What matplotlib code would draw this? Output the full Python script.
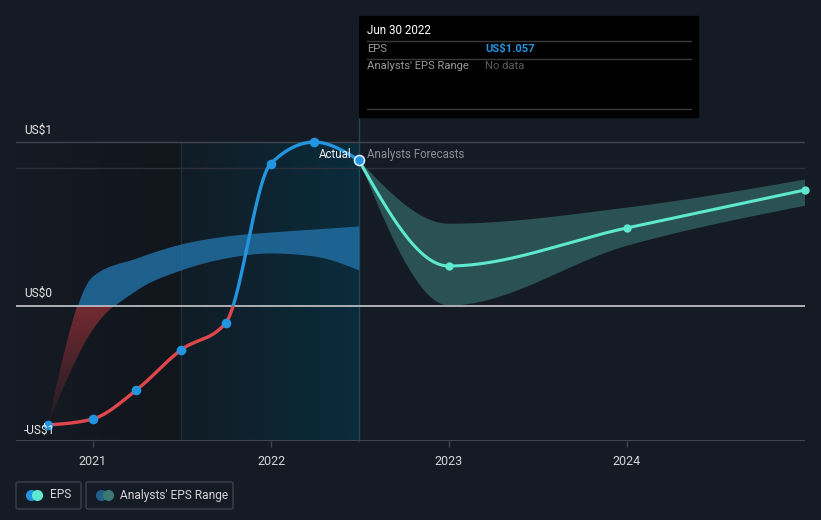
import numpy as np
import pandas as pd
import matplotlib
matplotlib.use("Agg")
import matplotlib.pyplot as plt
from matplotlib.patches import Rectangle, FancyBboxPatch, Polygon
from matplotlib.lines import Line2D
from matplotlib.colors import to_rgb

plt.rcParams['font.family'] = ['Roboto', 'DejaVu Sans']

# ---------------- data ----------------
actual_dates = ["2020-09-30", "2020-12-31", "2021-03-31", "2021-06-30",
                "2021-09-30", "2021-12-31", "2022-03-31", "2022-06-30"]
actual_eps = [-0.862, -0.819, -0.609, -0.319, -0.123, 1.029, 1.188, 1.057]

past_range_upper = [-0.862, 0.217, 0.348, 0.449, 0.507, 0.536, 0.558, 0.580]
past_range_lower = [-0.862, -0.174, 0.116, 0.261, 0.348, 0.384, 0.362, 0.261]

forecast_dates = ["2022-06-30", "2022-12-31", "2023-12-31", "2024-12-31"]
forecast_eps = [1.057, 0.290, 0.565, 0.840]
forecast_upper = [1.057, 0.600, 0.717, 0.920]
forecast_lower = [1.057, 0.007, 0.440, 0.730]

x_ticks = ["2021-01-01", "2022-01-01", "2023-01-01", "2024-01-01"]
x_tick_labels = ["2021", "2022", "2023", "2024"]
y_labels = ["US$1", "US$0", "-US$1"]

tooltip_date = "Jun 30 2022"
tooltip_eps = "US$1.057"


def dec_year(s):
    d = pd.Timestamp(s)
    days = 366 if d.is_leap_year else 365
    return d.year + (d.dayofyear - 1) / days + 1.0 / days


def monotone(x, y, n=120):
    x = np.asarray(x, float); y = np.asarray(y, float)
    h = np.diff(x); s = np.diff(y) / h
    m = np.zeros_like(y)
    for i in range(1, len(x) - 1):
        p = (s[i - 1] * h[i] + s[i] * h[i - 1]) / (h[i - 1] + h[i])
        m[i] = (np.sign(s[i - 1]) + np.sign(s[i])) * min(abs(s[i - 1]), abs(s[i]), 0.5 * abs(p))
    m[0] = (3 * s[0] - m[1]) / 2 if len(x) > 2 else s[0]
    m[-1] = (3 * s[-1] - m[-2]) / 2 if len(x) > 2 else s[-1]
    xs, ys = [], []
    for i in range(len(x) - 1):
        t = np.linspace(0, 1, n, endpoint=(i == len(x) - 2))
        h00 = 2 * t**3 - 3 * t**2 + 1
        h10 = t**3 - 2 * t**2 + t
        h01 = -2 * t**3 + 3 * t**2
        h11 = t**3 - t**2
        xs.append(x[i] + t * h[i])
        ys.append(h00 * y[i] + h10 * h[i] * m[i] + h01 * y[i + 1] + h11 * h[i] * m[i + 1])
    return np.concatenate(xs), np.concatenate(ys)


ax_x = [dec_year(d) for d in actual_dates]
fx = [dec_year(d) for d in forecast_dates]
tx = [dec_year(d) for d in x_ticks]

# ---------------- figure ----------------
W, H = 821, 520
BG = '#151b24'
fig = plt.figure(figsize=(W / 100, H / 100), dpi=100, facecolor=BG)

px_per_year = 178.0
px_per_dollar = 138.0
x0_px, x1_px = 16, 805
ybot_px, ytop_px = 441, 10
zero_px = 306
year2021_px = 93
xmin = tx[0] + (x0_px - year2021_px) / px_per_year
xmax = tx[0] + (x1_px - year2021_px) / px_per_year
ymin = -(ybot_px - zero_px) / px_per_dollar
ymax = (zero_px - ytop_px) / px_per_dollar
tooltip_top_val = (zero_px - 16) / px_per_dollar

ax = fig.add_axes([x0_px / W, (H - ybot_px) / H, (x1_px - x0_px) / W, (ybot_px - ytop_px) / H])
ax.set_facecolor(BG)
for sp in ax.spines.values():
    sp.set_visible(False)
ax.set_yticks([])
ax.set_xticks(tx)
ax.set_xticklabels(x_tick_labels)
ax.tick_params(axis='x', colors='#3f4550', length=4, width=1, pad=6, labelcolor='#d5d7da', labelsize=9)

top_val = max(actual_eps)
split = dec_year("2021-06-30")
now = ax_x[-1]


def hgrad(c0, c1, x0, x1, y0, y1, z):
    a = np.array(to_rgb(c0)); b = np.array(to_rgb(c1))
    t = np.linspace(0, 1, 64)[None, :, None]
    img = a[None, None, :] * (1 - t) + b[None, None, :] * t
    img = np.repeat(img, 2, axis=0)
    ax.imshow(img, extent=[x0, x1, y0, y1], origin='lower', aspect='auto', zorder=z,
              interpolation='bilinear')


# background regions
hgrad(BG, '#11151c', xmin, split, ymin, top_val, 0.1)
hgrad('#111c25', '#0a2c3c', split, now, ymin, top_val, 0.1)
ax.plot([split, split], [ymin, top_val], color='#1c303b', lw=1, zorder=0.5)
ax.plot([now, now], [ymin, tooltip_top_val], color='#1e4656', lw=1, zorder=0.5, clip_on=False)

# grid lines
ax.axhline(top_val, color='#40454f', lw=1, zorder=1)
ax.axhline(1.0, color='#2b303a', lw=1, zorder=1)
ax.axhline(0.0, color='#b9bcc0', lw=1.3, zorder=3)
ax.axhline(ymin, color='#40454f', lw=1.5, zorder=3)

# past analysts range band
bx, bu = monotone(ax_x, past_range_upper)
_, bl = monotone(ax_x, past_range_lower)
band_blue = ax.fill_between(bx, bl, bu, color='#2272a8', alpha=0.8, lw=0, zorder=2)
band_blue.set_clip_path(Rectangle((xmin, 0), xmax - xmin, ymax, transform=ax.transData))
poly = Polygon(np.column_stack([np.concatenate([bx, bx[::-1]]), np.concatenate([bu, bl[::-1]])]),
               closed=True, transform=ax.transData)
grad = np.zeros((100, 2, 4))
red = np.array([0.75, 0.22, 0.25])
for i in range(100):
    grad[i, :, :3] = red
    grad[i, :, 3] = 0.06 + 0.5 * (i / 99)
im = ax.imshow(grad, extent=[xmin, now, min(actual_eps), 0], origin='lower', aspect='auto', zorder=2,
               interpolation='bilinear')
im.set_clip_path(poly)

# forecast band
fbx, fbu = monotone(fx, forecast_upper)
_, fbl = monotone(fx, forecast_lower)
ax.fill_between(fbx, fbl, fbu, color='#3d7f7a', alpha=0.55, lw=0, zorder=2)

# actual eps line
ex, ey = monotone(ax_x, actual_eps)
l1, = ax.plot(ex, ey, color='#2394df', lw=2.4, zorder=4, solid_capstyle='round')
l1.set_clip_path(Rectangle((xmin, 0), xmax - xmin, ymax, transform=ax.transData))
l2, = ax.plot(ex, ey, color='#e0474c', lw=2.4, zorder=4, solid_capstyle='round')
l2.set_clip_path(Rectangle((xmin, ymin), xmax - xmin, -ymin, transform=ax.transData))
ax.scatter(ax_x[:-1], actual_eps[:-1], s=48, color='#2394df', zorder=5, lw=0)
ax.scatter([ax_x[-1]], [actual_eps[-1]], s=52, color='#2394df', edgecolor='#d8ecfa', lw=1.2, zorder=6)

# forecast line
fxx, fyy = monotone(fx, forecast_eps)
ax.plot(fxx, fyy, color='#5ee8d0', lw=2.2, zorder=4)
ax.scatter(fx[1:], forecast_eps[1:], s=36, color='#5ee8d0', zorder=5, lw=0, clip_on=False)

ax.set_xlim(xmin, xmax)
ax.set_ylim(ymin, ymax)


def ftext(xp, yp, s, **kw):
    fig.text(xp / W, 1 - yp / H, s, **kw)


# y labels
ftext(24, 130, y_labels[0], color='#e6e7e9', fontsize=8.6, va='center', ha='left')
ftext(24, 293, y_labels[1], color='#e6e7e9', fontsize=8.6, va='center', ha='left')
ftext(24, 430, y_labels[2], color='#e6e7e9', fontsize=8.6, va='center', ha='left')

ftext(351, 154, "Actual", color='#f0f0f0', fontsize=8.3, va='center', ha='right')
ftext(367, 154, "Analysts Forecasts", color='#8c9099', fontsize=8.3, va='center', ha='left')

# tooltip
fig.patches.append(Rectangle((359 / W, 1 - 117 / H), (698 - 359) / W, (117 - 16) / H,
                             transform=fig.transFigure, color='#000000', zorder=10))
for yl in (41, 59, 109):
    fig.lines.append(Line2D([367 / W, 691 / W], [1 - yl / H, 1 - yl / H], transform=fig.transFigure,
                            color='#3a3a3a', lw=1, zorder=11))
ftext(367, 31, tooltip_date, color='#ffffff', fontsize=8.4, va='center', zorder=12)
ftext(367, 49, "EPS", color='#9a9a9a', fontsize=8.1, va='center', zorder=12)
ftext(485, 49, tooltip_eps, color='#2394df', fontsize=8.1, va='center', fontweight='bold', zorder=12)
ftext(367, 66, "Analysts' EPS Range", color='#9a9a9a', fontsize=8.1, va='center', zorder=12)
ftext(485, 66, "No data", color='#5c5c5c', fontsize=8.1, va='center', zorder=12)

# legend
for (bx0, bx1) in ((16, 81), (86, 233)):
    fig.patches.append(FancyBboxPatch((bx0 / W, 1 - 509 / H), (bx1 - bx0) / W, 27 / H,
                                      boxstyle="round,pad=0,rounding_size=0.003",
                                      transform=fig.transFigure, facecolor='none',
                                      edgecolor='#3b404a', lw=1))
for xp, c in ((31, '#2394df'), (37, '#5ee8d0'), (101, '#1f5f8a'), (108, '#3a7a72')):
    fig.add_artist(Line2D([xp / W], [1 - 495 / H], marker='o', ms=7, color=c, lw=0,
                          transform=fig.transFigure))
ftext(50, 495, "EPS", color='#d5d7da', fontsize=8.6, va='center')
ftext(120, 495, "Analysts' EPS Range", color='#d5d7da', fontsize=8.6, va='center')

fig.savefig("out.png", dpi=100, facecolor=BG)
